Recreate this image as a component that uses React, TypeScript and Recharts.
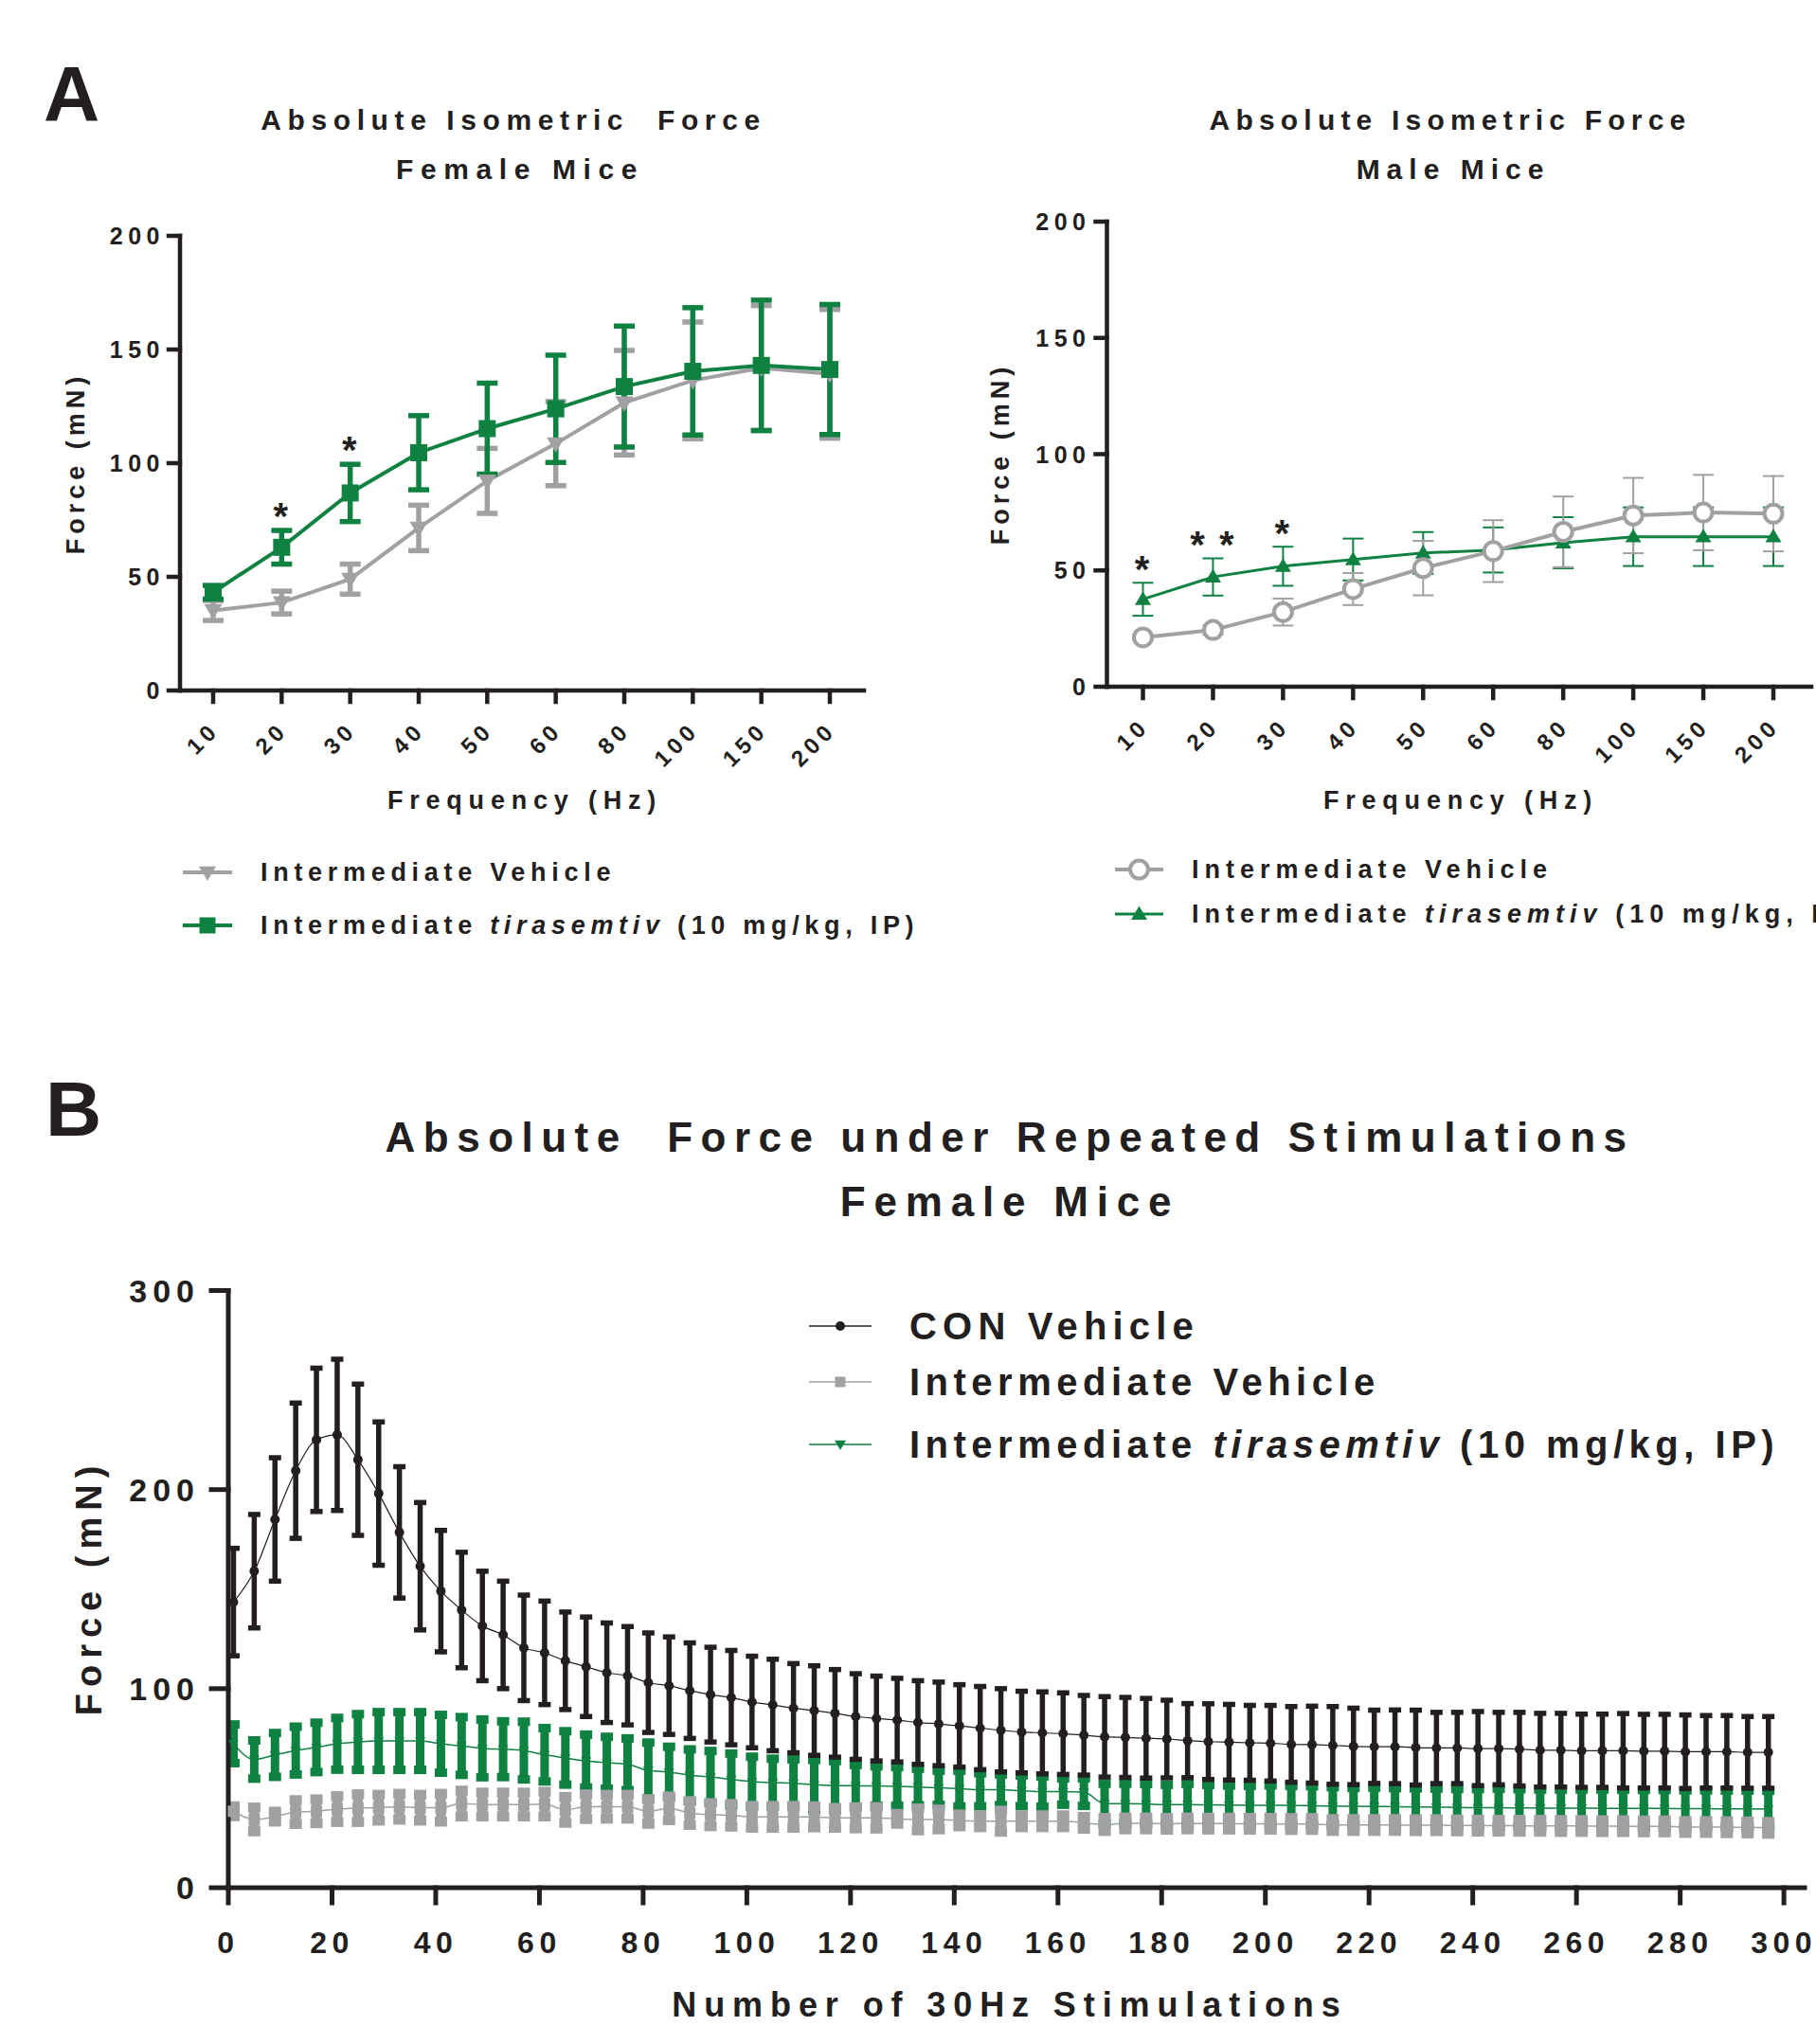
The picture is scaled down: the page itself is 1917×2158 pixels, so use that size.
import React from "react";
import { LineChart, Line, XAxis, YAxis, ErrorBar, ReferenceDot } from "recharts";

const FONT = '"Liberation Sans", Arial, Helvetica, sans-serif';
const INK = "#231F20";
const GREY = "#A1A1A4";
const GREEN = "#0F8241";

// ---- Panel A: force-frequency (mean, SEM) ----
const frequencies = ["10", "20", "30", "40", "50", "60", "80", "100", "150", "200"];
const forceTicksA = [0, 50, 100, 150, 200];

const femaleVehicle = [35.2, 38.7, 49, 71.5, 92.2, 108.6, 126.6, 136.4, 141.9, 139.3];
const femaleVehicleSem = [4.4, 5, 6.6, 10, 14.3, 18.5, 23, 25.7, 27.4, 28.3];
const femaleTirasemtiv = [43.2, 63, 86.9, 104.6, 115.2, 123.9, 133.7, 140.4, 143, 141.2];
const femaleTirasemtivSem = [3, 7.4, 12.6, 16.3, 20, 23.6, 26.6, 28, 28.7, 28.6];
const femaleStars = ["", "*", "*", "", "", "", "", "", "", ""];

const maleVehicle = [21.2, 24.4, 32.1, 42, 51, 58.3, 66.6, 73.6, 74.9, 74.4];
const maleVehicleSem = [1, 2, 5.8, 6.9, 11.7, 13.3, 15.2, 16.2, 16.2, 16.2];
const maleTirasemtiv = [37.6, 47.2, 51.8, 54.7, 57.5, 58.8, 61.9, 64.5, 64.5, 64.5];
const maleTirasemtivSem = [7.1, 8, 8.4, 9, 9, 9.7, 11, 12.6, 12.6, 12.6];
const maleStars = ["*", "* *", "*", "", "", "", "", "", "", ""];

// ---- Panel B: repeated 30 Hz stimulations ----
const stimNumbers = [
  1, 5, 9, 13, 17, 21, 25, 29, 33, 37, 41, 45, 49, 53, 57, 61, 65, 69, 73, 77,
  81, 85, 89, 93, 97, 101, 105, 109, 113, 117, 121, 125, 129, 133, 137, 141, 145, 149, 153, 157,
  161, 165, 169, 173, 177, 181, 185, 189, 193, 197, 201, 205, 209, 213, 217, 221, 225, 229, 233, 237,
  241, 245, 249, 253, 257, 261, 265, 269, 273, 277, 281, 285, 289, 293, 297,
];
const stimTicks = [0, 20, 40, 60, 80, 100, 120, 140, 160, 180, 200, 220, 240, 260, 280, 300];
const forceTicksB = [0, 100, 200, 300];

const conVehicle = [
  143.5, 159, 185, 209.5, 225, 227.5, 215, 198, 178.5, 161.5,
  149, 139.5, 131.5, 127, 120.5, 118, 114, 111, 108, 106.5,
  103, 101.5, 99, 97, 95.5, 93.3, 91.8, 90.2, 89, 87.6,
  86, 85, 84.2, 83, 82.3, 81.3, 80.2, 79.1, 78.2, 77.8,
  77.4, 76.6, 75.8, 75.5, 75.1, 74.7, 73.9, 73.4, 73.1, 72.8,
  72.6, 72, 71.9, 71.5, 71, 70.8, 70.8, 70.4, 70.2, 70.2,
  69.9, 69.9, 69.6, 69.1, 69.1, 68.8, 68.8, 68.8, 68.6, 68.6,
  68.3, 68.3, 68.3, 68, 68,
];
const conVehicleSem = [
  27, 28.5, 31, 34, 36, 38, 38, 36, 33, 32,
  30.5, 29, 27.5, 27, 26.5, 26, 24.5, 25, 25, 24.7,
  25, 24.5, 24, 23.8, 23.7, 23, 23, 22.4, 22.5, 22,
  21.5, 21.3, 21, 21, 21, 20.7, 20.9, 20.9, 20.5, 20.6,
  20.5, 20, 20.2, 20.1, 20, 19.5, 18.6, 19, 19, 18.8,
  19, 19, 19.3, 19.5, 19.2, 18.4, 18.5, 18.8, 17.9, 17.9,
  18.6, 18.2, 18.5, 18.5, 18.5, 18.4, 18.4, 18.7, 18.5, 18.5,
  18.5, 18.2, 18.2, 18, 18,
];
const intVehicle = [
  38.4, 34.3, 35.7, 38, 38.4, 39.5, 40, 40.2, 40.7, 40.2,
  40.2, 42.3, 41.8, 41.8, 41.8, 42, 39.1, 40.7, 40.7, 40.7,
  38.3, 39.9, 37.5, 36.7, 36.4, 35.6, 35.6, 35.6, 35.6, 35.1,
  35.1, 35.1, 34.6, 34.3, 34.3, 33.8, 33.4, 33.4, 33.4, 33.4,
  33.4, 32.6, 31.8, 32.3, 32.3, 32.1, 32.3, 32.2, 32.2, 32.1,
  32.1, 32, 32, 31.5, 31.5, 31.5, 31.5, 31.4, 31.4, 31.3,
  31.2, 31.2, 31.1, 31.1, 31, 31, 30.9, 30.9, 30.8, 30.8,
  30.5, 30.5, 30.4, 30.3, 30.1,
];
const intVehicleSem = [
  2.5, 6, 2.5, 6, 6, 6.5, 7, 6.5, 6.5, 6.5,
  7, 6.5, 6, 6, 6, 6.2, 6.5, 6.2, 6, 6,
  6.2, 6, 6, 5.8, 5.7, 5.5, 5.5, 5.5, 5.3, 5,
  5.3, 5.4, 2.5, 5.5, 5, 3, 3, 5.3, 3, 3,
  3, 3, 3.3, 3, 3, 3, 3, 3, 3, 3,
  3, 3, 3, 3, 3, 3, 3, 3, 3, 3,
  3, 3, 3, 3, 3, 3, 3, 3, 3, 3,
  3, 3, 3, 3, 3,
];
const intTirasemtiv = [
  72.3, 64.4, 66.7, 68.9, 70.5, 72.3, 73.2, 73.7, 73.7, 73.7,
  72.3, 71.2, 70, 69.6, 68.9, 66.8, 65.2, 63.6, 62.8, 62,
  58.9, 58.1, 56.5, 55.7, 54.4, 53.3, 52.8, 52.5, 51.7, 51.3,
  51.2, 51.1, 50.9, 50.6, 50.2, 49.8, 49.2, 49.2, 48.7, 48.3,
  48.3, 48, 42.2, 42.2, 42.1, 41.7, 41.7, 41.6, 41.5, 41.4,
  41.4, 41.3, 41.2, 41, 40.9, 40.8, 40.7, 40.6, 40.5, 40.3,
  40.2, 40.2, 40.1, 40, 40, 40, 39.9, 39.9, 39.8, 39.8,
  39.7, 39.7, 39.6, 39.6, 39.5,
];
const intTirasemtivSem = [
  9.7, 9.6, 11, 12, 12.4, 13, 14, 14.5, 14.5, 14.5,
  14.5, 14.5, 14.5, 14, 14.5, 13.4, 13.4, 13.3, 13, 13,
  14, 12.7, 13, 13, 13, 12.5, 12, 12, 12.5, 12.3,
  10.5, 9.9, 9.7, 9.2, 8.6, 9, 8.3, 7.7, 7.7, 7.6,
  6.6, 6.9, 10, 10, 10, 10, 10.5, 10, 9.8, 9.8,
  10, 9.8, 9.8, 9.5, 9.2, 9.5, 9.3, 9.3, 9.3, 9.3,
  9.4, 9.6, 9.4, 9.3, 9.3, 9.3, 9.4, 9.3, 9.3, 9.3,
  9.2, 9.2, 9.2, 9.2, 9.2,
];

const femaleData = frequencies.map((f, i) => ({
  f,
  veh: femaleVehicle[i],
  vehErr: femaleVehicleSem[i],
  tir: femaleTirasemtiv[i],
  tirErr: femaleTirasemtivSem[i],
}));
const maleData = frequencies.map((f, i) => ({
  f,
  veh: maleVehicle[i],
  vehErr: maleVehicleSem[i],
  tir: maleTirasemtiv[i],
  tirErr: maleTirasemtivSem[i],
}));
const stimData = stimNumbers.map((n, i) => ({
  n,
  con: conVehicle[i],
  conErr: conVehicleSem[i],
  veh: intVehicle[i],
  vehErr: intVehicleSem[i],
  tir: intTirasemtiv[i],
  tirErr: intTirasemtivSem[i],
}));

function marker(kind: string, size: number, color: string, cx: number, cy: number, key?: string) {
  const s = size / 2;
  if (kind === "square") return <rect key={key} x={cx - s} y={cy - s} width={size} height={size} fill={color} />;
  if (kind === "down")
    return <polygon key={key} points={`${cx - s},${cy - s * 0.7} ${cx + s},${cy - s * 0.7} ${cx},${cy + s}`} fill={color} />;
  if (kind === "up")
    return <polygon key={key} points={`${cx - s},${cy + s * 0.7} ${cx + s},${cy + s * 0.7} ${cx},${cy - s}`} fill={color} />;
  if (kind === "ring") return <circle key={key} cx={cx} cy={cy} r={s} fill="#fff" stroke={color} strokeWidth={4} />;
  return <circle key={key} cx={cx} cy={cy} r={s} fill={color} />;
}

const dot = (kind: string, size: number, color: string) => (p: any) =>
  p.cx == null || p.cy == null ? <g key={`e-${p.index}`} /> : marker(kind, size, color, p.cx, p.cy, `m-${p.index}`);

const starShape = (text: string) => (p: any) => (
  <text x={p.cx} y={p.cy} dy="0.58em" textAnchor="middle" fontFamily={FONT} fontWeight={700} fontSize={40} fill={INK} style={{ letterSpacing: 2 }}>
    {text}
  </text>
);

const RotTick = (p: any) => (
  <g transform={`translate(${p.x + 8},${p.y + 27})`}>
    <text x={0} y={0} textAnchor="end" transform="rotate(-45)" fontFamily={FONT} fontWeight={700} fontSize={24} fill={INK} style={{ letterSpacing: 5 }}>
      {p.payload.value}
    </text>
  </g>
);

const LeftTick = (p: any) => (
  <text x={p.x} y={p.y} dy={p.fs * 0.36} textAnchor="end" fontFamily={FONT} fontWeight={700} fontSize={p.fs} fill={INK} style={{ letterSpacing: p.ls }}>
    {p.payload.value}
  </text>
);

const BottomTick = (p: any) => (
  <text x={p.x} y={p.y} dy={45} textAnchor="middle" fontFamily={FONT} fontWeight={700} fontSize={32} fill={INK} style={{ letterSpacing: 5.5 }}>
    {p.payload.value}
  </text>
);

function Txt({ x, y, size, ls = 0, anchor = "middle", rotate, children }: any) {
  const tx = anchor === "middle" ? "-50%" : anchor === "start" ? "0" : "-100%";
  return (
    <div
      style={{
        position: "absolute",
        left: x,
        top: y,
        transform: `translate(${tx}, -50%)${rotate ? ` rotate(${rotate}deg)` : ""}`,
        whiteSpace: "pre",
        lineHeight: 1,
        fontSize: size,
        letterSpacing: ls,
        fontWeight: 700,
        fontFamily: FONT,
        color: INK,
      }}
    >
      {children}
    </div>
  );
}

function Key({ x1, x2, y, color, lw, kind, size }: any) {
  const w = x2 - x1;
  const h = 40;
  return (
    <svg style={{ position: "absolute", left: x1, top: y - h / 2, overflow: "visible" }} width={w} height={h}>
      <line x1={0} x2={w} y1={h / 2} y2={h / 2} stroke={color} strokeWidth={lw} />
      {marker(kind, size, color, w / 2, h / 2)}
    </svg>
  );
}

const axisA = { stroke: INK, strokeWidth: 4.5, strokeLinecap: "square" as const };
const axisB = { stroke: INK, strokeWidth: 5, strokeLinecap: "square" as const };

export default function App() {
  return (
    <div
      style={{
        position: "absolute",
        left: 0,
        top: 0,
        width: 1917,
        height: 2158,
        background: "#fff",
        overflow: "hidden",
        fontFamily: FONT,
      }}
    >
      {/* Panel A, female */}
      <div style={{ position: "absolute", left: 0, top: 0 }}>
        <LineChart width={960} height={850} data={femaleData} margin={{ top: 249, right: 48, bottom: 61, left: 110 }}>
          <XAxis
            dataKey="f"
            type="category"
            height={60}
            interval={0}
            padding={{ left: 35, right: 36 }}
            axisLine={axisA}
            tickLine={axisA}
            tickSize={12}
            tickMargin={4}
            tick={(p: any) => <RotTick {...p} />}
          />
          <YAxis
            type="number"
            domain={[0, 200]}
            ticks={forceTicksA}
            width={80}
            axisLine={axisA}
            tickLine={axisA}
            tickSize={12}
            tickMargin={4}
            tick={(p: any) => <LeftTick {...p} fs={25} ls={5.5} />}
          />
          <Line dataKey="veh" type="linear" stroke={GREY} strokeWidth={4} dot={dot("down", 19, GREY)} isAnimationActive={false}>
            <ErrorBar dataKey="vehErr" direction="y" width={11} strokeWidth={5.5} stroke={GREY} isAnimationActive={false} />
          </Line>
          <Line dataKey="tir" type="linear" stroke={GREEN} strokeWidth={4} dot={dot("square", 18, GREEN)} isAnimationActive={false}>
            <ErrorBar dataKey="tirErr" direction="y" width={11} strokeWidth={5.5} stroke={GREEN} isAnimationActive={false} />
          </Line>
          {frequencies.map((f, i) =>
            femaleStars[i] ? (
              <ReferenceDot
                key={`fs-${f}`}
                x={f}
                y={femaleTirasemtiv[i] + femaleTirasemtivSem[i] + 10}
                r={0}
                ifOverflow="visible"
                shape={starShape(femaleStars[i])}
              />
            ) : null
          )}
        </LineChart>
      </div>

      {/* Panel A, male */}
      <div style={{ position: "absolute", left: 960, top: 0 }}>
        <LineChart width={957} height={850} data={maleData} margin={{ top: 234, right: 5, bottom: 65, left: 128.5 }}>
          <XAxis
            dataKey="f"
            type="category"
            height={60}
            interval={0}
            padding={{ left: 38, right: 40 }}
            axisLine={axisA}
            tickLine={axisA}
            tickSize={12}
            tickMargin={4}
            tick={(p: any) => <RotTick {...p} />}
          />
          <YAxis
            type="number"
            domain={[0, 200]}
            ticks={forceTicksA}
            width={80}
            axisLine={axisA}
            tickLine={axisA}
            tickSize={12}
            tickMargin={5}
            tick={(p: any) => <LeftTick {...p} fs={25} ls={5.5} />}
          />
          <Line dataKey="tir" type="linear" stroke={GREEN} strokeWidth={3} dot={dot("up", 17, GREEN)} isAnimationActive={false}>
            <ErrorBar dataKey="tirErr" direction="y" width={11} strokeWidth={2} stroke={GREEN} isAnimationActive={false} />
          </Line>
          <Line dataKey="veh" type="linear" stroke={GREY} strokeWidth={4} dot={dot("ring", 19, GREY)} isAnimationActive={false}>
            <ErrorBar dataKey="vehErr" direction="y" width={11} strokeWidth={2} stroke={GREY} isAnimationActive={false} />
          </Line>
          {frequencies.map((f, i) =>
            maleStars[i] ? (
              <ReferenceDot
                key={`ms-${f}`}
                x={f}
                y={maleTirasemtiv[i] + maleTirasemtivSem[i] + 9.7}
                r={0}
                ifOverflow="visible"
                shape={starShape(maleStars[i])}
              />
            ) : null
          )}
        </LineChart>
      </div>

      {/* Panel B */}
      <div style={{ position: "absolute", left: 0, top: 1300 }}>
        <LineChart width={1917} height={858} data={stimData} margin={{ top: 62.5, right: 12, bottom: 85, left: 141 }}>
          <XAxis
            dataKey="n"
            type="number"
            domain={[0, 304]}
            ticks={stimTicks}
            height={80}
            interval={0}
            axisLine={axisB}
            tickLine={axisB}
            tickSize={16}
            tickMargin={8}
            tick={(p: any) => <BottomTick {...p} />}
          />
          <YAxis
            type="number"
            domain={[0, 300]}
            ticks={forceTicksB}
            width={100}
            axisLine={axisB}
            tickLine={axisB}
            tickSize={18}
            tickMargin={12}
            tick={(p: any) => <LeftTick {...p} fs={34} ls={6} />}
          />
          <Line dataKey="tir" type="monotone" stroke={GREEN} strokeWidth={1.5} dot={dot("down", 11, GREEN)} isAnimationActive={false}>
            <ErrorBar dataKey="tirErr" direction="y" width={6.5} strokeWidth={9} stroke={GREEN} isAnimationActive={false} />
          </Line>
          <Line dataKey="veh" type="monotone" stroke={GREY} strokeWidth={1.5} dot={dot("square", 12, GREY)} isAnimationActive={false}>
            <ErrorBar dataKey="vehErr" direction="y" width={6.5} strokeWidth={10.5} stroke={GREY} isAnimationActive={false} />
          </Line>
          <Line dataKey="con" type="monotone" stroke={INK} strokeWidth={1.2} dot={dot("circle", 10, INK)} isAnimationActive={false}>
            <ErrorBar dataKey="conErr" direction="y" width={6.5} strokeWidth={5.5} stroke={INK} isAnimationActive={false} />
          </Line>
        </LineChart>
      </div>

      {/* Texts, panel A */}
      <Txt x={46} y={99} size={82} anchor="start">A</Txt>
      <Txt x={542} y={127} size={30} ls={6.6}>{"Absolute Isometric  Force"}</Txt>
      <Txt x={549} y={179} size={30} ls={7.6}>Female Mice</Txt>
      <Txt x={80} y={489} size={27} ls={5} rotate={-90}>Force (mN)</Txt>
      <Txt x={554} y={845} size={27} ls={6.8}>Frequency (Hz)</Txt>
      <Key x1={193} x2={245} y={921} color={GREY} lw={4} kind="down" size={18} />
      <Txt x={275} y={921} size={27} ls={5.7} anchor="start">Intermediate Vehicle</Txt>
      <Key x1={193} x2={245} y={977} color={GREEN} lw={4} kind="square" size={17} />
      <Txt x={275} y={977} size={27} ls={5.7} anchor="start">
        Intermediate <i>tirasemtiv</i> (10 mg/kg, IP)
      </Txt>

      <Txt x={1531} y={127} size={30} ls={6.2}>Absolute Isometric Force</Txt>
      <Txt x={1534} y={179} size={30} ls={7}>Male Mice</Txt>
      <Txt x={1056} y={479} size={27} ls={5} rotate={-90}>Force (mN)</Txt>
      <Txt x={1542} y={845} size={27} ls={6.8}>Frequency (Hz)</Txt>
      <Key x1={1177} x2={1228} y={918} color={GREY} lw={4} kind="ring" size={19} />
      <Txt x={1258} y={918} size={27} ls={6} anchor="start">Intermediate Vehicle</Txt>
      <Key x1={1177} x2={1228} y={965} color={GREEN} lw={3} kind="up" size={17} />
      <Txt x={1258} y={965} size={27} ls={6} anchor="start">
        Intermediate <i>tirasemtiv</i> (10 mg/kg, IP)
      </Txt>

      {/* Texts, panel B */}
      <Txt x={48} y={1171} size={82} anchor="start">B</Txt>
      <Txt x={1066} y={1201} size={44} ls={8.5}>{"Absolute  Force under Repeated Stimulations"}</Txt>
      <Txt x={1066} y={1269} size={44} ls={8.8}>Female Mice</Txt>
      <Txt x={94} y={1676} size={38} ls={7} rotate={-90}>Force (mN)</Txt>
      <Txt x={1066} y={2117} size={36} ls={7.9}>Number of 30Hz Stimulations</Txt>
      <Key x1={854} x2={920} y={1400} color={INK} lw={1.5} kind="circle" size={10} />
      <Txt x={960} y={1400} size={40} ls={6.2} anchor="start">CON Vehicle</Txt>
      <Key x1={854} x2={920} y={1459} color={GREY} lw={1.5} kind="square" size={11} />
      <Txt x={960} y={1459} size={40} ls={5.5} anchor="start">Intermediate Vehicle</Txt>
      <Key x1={854} x2={920} y={1525} color={GREEN} lw={1.5} kind="down" size={12} />
      <Txt x={960} y={1525} size={40} ls={5.5} anchor="start">
        Intermediate <i>tirasemtiv</i> (10 mg/kg, IP)
      </Txt>
    </div>
  );
}
